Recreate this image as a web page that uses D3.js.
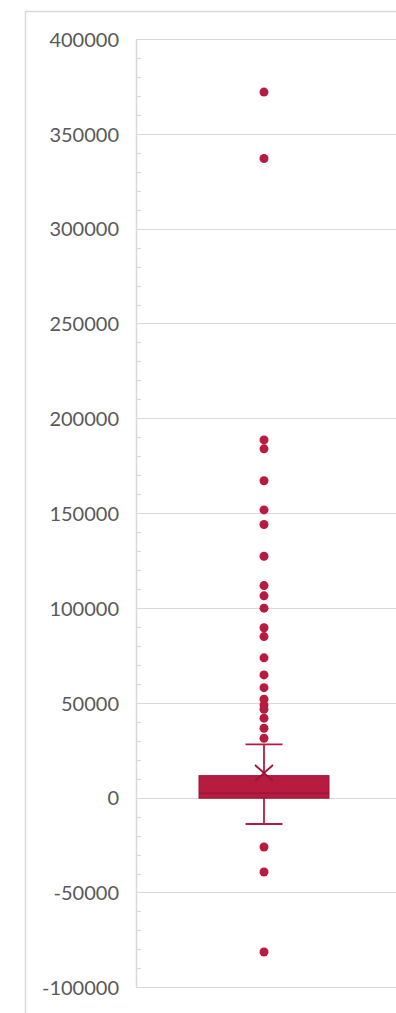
<!DOCTYPE html>
<html>
<head>
<meta charset="utf-8">
<script src="https://cdn.jsdelivr.net/npm/d3@7"></script>
<style>
body { margin: 0; background: #fff; }
svg { display: block; }
</style>
</head>
<body>
<script>
// values
var categories = ["Series 1"];
var boxStats = { low: -13900, q1: -300, median: 2300, q3: 11600, high: 28100, mean: 13000 };
var outliers = [372000, 337000, 188600, 183900, 167100, 151700, 144000, 127300, 111800, 106400,
    99900, 89600, 84900, 73700, 64700, 58000, 51900, 48800, 46600, 41900, 36600, 31300,
    -26000, -39200, -81400];
var tickValues = [-100000, -50000, 0, 50000, 100000, 150000, 200000, 250000, 300000, 350000, 400000];
var minorStep = 10000;

var red = "#b81b40";
var redDark = "#9a1636";
var gridColor = "#d9d9d9";

var svg = d3.select("body")
    .append("svg")
    .attr("width", 396)
    .attr("height", 1013);

// chart frame (runs off the right and bottom)
svg.append("rect")
    .attr("x", 25.5).attr("y", 11.5)
    .attr("width", 500).attr("height", 1100)
    .attr("fill", "none")
    .attr("stroke", gridColor)
    .attr("stroke-width", 1.5);

var plotLeft = 136, plotRight = 396, plotTop = 39, plotBottom = 987.3;

var yScale = d3.scaleLinear().domain([-100000, 400000]).range([plotBottom, plotTop]);
var xScale = d3.scaleBand().domain(categories).range([plotLeft, 392]).paddingInner(0).paddingOuter(0.5);

// gridlines
svg.append("g").selectAll("line")
    .data(tickValues)
    .enter()
    .append("line")
    .attr("x1", plotLeft).attr("x2", plotRight)
    .attr("y1", d => Math.round(yScale(d)) + 0.5)
    .attr("y2", d => Math.round(yScale(d)) + 0.5)
    .attr("stroke", gridColor)
    .attr("stroke-width", 1.2);

// y axis with labels (plain hyphen for negatives), and minor ticks inside the plot
var axis = svg.append("g")
    .attr("transform", "translate(" + plotLeft + ",0)")
    .call(d3.axisLeft(yScale).tickValues(tickValues).tickSize(0).tickPadding(17).tickFormat(d => String(d)));
axis.select(".domain").attr("stroke", gridColor).attr("stroke-width", 1.5);
axis.selectAll("text")
    .attr("fill", "#595959")
    .style("font-family", "Lato, 'Open Sans', sans-serif")
    .style("font-size", "20px")
    .attr("dy", "0.36em");

var minorTicks = d3.range(-100000, 400001, minorStep).filter(d => d % 50000 != 0);
svg.append("g").selectAll("line")
    .data(minorTicks)
    .enter()
    .append("line")
    .attr("x1", plotLeft).attr("x2", plotLeft + 5)
    .attr("y1", d => Math.round(yScale(d)) + 0.5)
    .attr("y2", d => Math.round(yScale(d)) + 0.5)
    .attr("stroke", gridColor)
    .attr("stroke-width", 1.2);

// box plot
var cx = xScale(categories[0]) + xScale.bandwidth() / 2;
var boxW = 130, capW = 37;
var g = svg.append("g");

g.append("line")
    .attr("x1", cx).attr("x2", cx)
    .attr("y1", yScale(boxStats.high)).attr("y2", yScale(boxStats.low))
    .attr("stroke", red).attr("stroke-width", 1.8);
[boxStats.high, boxStats.low].forEach(function(v){
    g.append("line")
        .attr("x1", cx - capW / 2).attr("x2", cx + capW / 2)
        .attr("y1", yScale(v)).attr("y2", yScale(v))
        .attr("stroke", red).attr("stroke-width", 1.8);
});

g.append("rect")
    .attr("x", cx - boxW / 2)
    .attr("y", yScale(boxStats.q3))
    .attr("width", boxW)
    .attr("height", yScale(boxStats.q1) - yScale(boxStats.q3))
    .attr("fill", red)
    .attr("stroke", redDark)
    .attr("stroke-width", 1);

g.append("line")
    .attr("x1", cx - boxW / 2).attr("x2", cx + boxW / 2)
    .attr("y1", yScale(boxStats.median)).attr("y2", yScale(boxStats.median))
    .attr("stroke", redDark).attr("stroke-width", 1.5);

// mean marker (x)
var my = yScale(boxStats.mean);
g.append("path")
    .attr("d", "M" + (cx - 9) + "," + (my - 8) + "L" + (cx + 9) + "," + (my + 8) +
        "M" + (cx - 9) + "," + (my + 8) + "L" + (cx + 9) + "," + (my - 8))
    .attr("stroke", redDark).attr("stroke-width", 1.8).attr("fill", "none");

// outliers
g.selectAll("circle")
    .data(outliers)
    .enter()
    .append("circle")
    .attr("cx", cx)
    .attr("cy", d => yScale(d))
    .attr("r", 4.5)
    .attr("fill", red);
</script>
</body>
</html>
